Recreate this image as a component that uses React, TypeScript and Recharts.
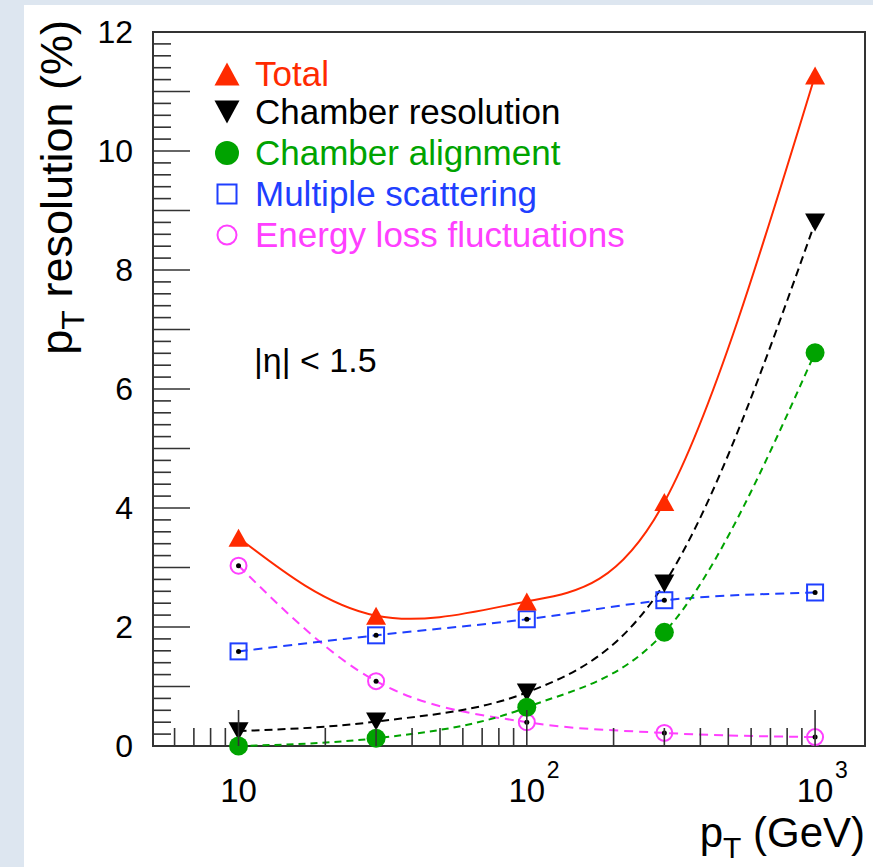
import React from 'react';
import { ComposedChart, Line, XAxis, YAxis, ReferenceArea, Legend } from 'recharts';

const FONT = '"Liberation Sans", Arial, Helvetica, sans-serif';
const RED = '#ff2a00';
const BLACK = '#000000';
const GREEN = '#00a300';
const BLUE = '#1f3fff';
const PINK = '#ff40ff';
const FRAME = '#333333';

const PLOT_LEFT = 153;
const PLOT_BOTTOM = 746;

// pT points (GeV) and the resolution contributions (%)
const ptValues = [10, 30, 100, 300, 1000];
const totalRes = [3.5, 2.19, 2.43, 4.1, 11.27];
const chamberResolution = [0.25, 0.41, 0.9, 2.73, 8.8];
const chamberAlignment = [0.0, 0.13, 0.65, 1.91, 6.61];
const multipleScattering = [1.59, 1.86, 2.13, 2.45, 2.58];
const energyLoss = [3.03, 1.09, 0.4, 0.22, 0.15];

const xDomain = [5.05, 1490];
const xTicks = [6, 7, 8, 9, 10, 20, 30, 40, 50, 60, 70, 80, 90, 100, 200, 300, 400, 500, 600, 700, 800, 900, 1000];
const xLabelValues = [10, 100, 1000];
const xLabelExps = ['', '2', '3'];
const yLabels = [0, 2, 4, 6, 8, 10, 12];

const yTicks: number[] = [];
for (let i = 0; i <= 60; i++) yTicks.push(Math.round(i * 2) / 10);

const legendItems = [
  { name: 'Total', color: RED, marker: 'triUp' },
  { name: 'Chamber resolution', color: BLACK, marker: 'triDown' },
  { name: 'Chamber alignment', color: GREEN, marker: 'disc' },
  { name: 'Multiple scattering', color: BLUE, marker: 'square' },
  { name: 'Energy loss fluctuations', color: PINK, marker: 'ring' },
];

const data = ptValues.map((pt, i) => ({
  pt,
  total: totalRes[i],
  chamberRes: chamberResolution[i],
  chamberAlign: chamberAlignment[i],
  multScat: multipleScattering[i],
  eloss: energyLoss[i],
}));

function Marker({ kind, cx, cy, color, size }: { kind: string; cx: number; cy: number; color: string; size: number }) {
  const h = size / 2;
  if (kind === 'triUp')
    return <path d={`M${cx},${cy - h} L${cx + h + 1},${cy + h} L${cx - h - 1},${cy + h} Z`} fill={color} />;
  if (kind === 'triDown')
    return <path d={`M${cx},${cy + h} L${cx + h + 1},${cy - h} L${cx - h - 1},${cy - h} Z`} fill={color} />;
  if (kind === 'disc') return <circle cx={cx} cy={cy} r={h + 0.5} fill={color} />;
  if (kind === 'square')
    return <rect x={cx - h + 1} y={cy - h + 1} width={size - 2} height={size - 2} fill="none" stroke={color} strokeWidth={2} />;
  return <circle cx={cx} cy={cy} r={h - 1} fill="none" stroke={color} strokeWidth={2} />;
}

const makeDot = (kind: string, color: string, centre: boolean) => (props: any) => {
  const { cx, cy, index } = props;
  if (cx == null || cy == null) return <g key={`${kind}-${index}`} />;
  return (
    <g key={`${kind}-${index}`}>
      <Marker kind={kind} cx={cx} cy={cy} color={color} size={18} />
      {centre && <circle cx={cx} cy={cy} r={2.5} fill="#000" />}
    </g>
  );
};

function XTick(props: any) {
  const { x, payload } = props;
  const li = xLabelValues.indexOf(payload.value);
  const major = li >= 0;
  return (
    <g>
      <line x1={x} x2={x} y1={PLOT_BOTTOM} y2={PLOT_BOTTOM - (major ? 36 : 18)} stroke={FRAME} strokeWidth={1.6} />
      {major && (
        <text x={x} y={802} textAnchor="middle" fontSize={33} fontFamily={FONT} fill="#000">
          10
        </text>
      )}
      {major && xLabelExps[li] && (
        <text x={x + 20} y={778} fontSize={23} fontFamily={FONT} fill="#000">
          {xLabelExps[li]}
        </text>
      )}
    </g>
  );
}

function YTick(props: any) {
  const { y, payload } = props;
  const v = payload.value;
  const isInt = Math.abs(v - Math.round(v)) < 1e-6;
  const labelled = isInt && yLabels.includes(Math.round(v));
  return (
    <g>
      {v > 0 && v < 12 && (
        <line x1={PLOT_LEFT} x2={PLOT_LEFT + (isInt ? 37 : 18)} y1={y} y2={y} stroke={FRAME} strokeWidth={1.6} />
      )}
      {labelled && (
        <text x={133} y={y + 11} textAnchor="end" fontSize={32} fontFamily={FONT} fill="#000">
          {Math.round(v)}
        </text>
      )}
    </g>
  );
}

const legendRows = [86, 124, 165, 206, 247];

function LegendBox() {
  return (
    <svg width={440} height={220} style={{ overflow: 'visible' }}>
      {legendItems.map((it, i) => (
        <g key={it.name}>
          <Marker kind={it.marker} cx={27} cy={legendRows[i] - 50 - 12} color={it.color} size={it.marker === 'square' || it.marker === 'ring' ? 21 : 23} />
          <text x={55} y={legendRows[i] - 50} fontSize={35} fontFamily={FONT} fill={it.color}>
            {it.name}
          </text>
        </g>
      ))}
    </svg>
  );
}

export default function App() {
  return (
    <div style={{ position: 'absolute', left: 0, top: 0, width: 873, height: 867, background: '#dde6f0', overflow: 'hidden' }}>
      <div style={{ position: 'absolute', left: 24, top: 5, width: 849, height: 862, background: '#ffffff' }} />
      <div style={{ position: 'absolute', left: 0, top: 0 }}>
        <ComposedChart width={873} height={867} data={data} margin={{ top: 32, right: 8, left: 0, bottom: 0 }}>
          <XAxis
            dataKey="pt"
            type="number"
            scale="log"
            domain={xDomain}
            allowDataOverflow
            ticks={xTicks}
            interval={0}
            tick={<XTick />}
            tickLine={false}
            axisLine={false}
            height={121}
          />
          <YAxis
            type="number"
            domain={[0, 12]}
            ticks={yTicks}
            interval={0}
            tick={<YTick />}
            tickLine={false}
            axisLine={false}
            width={153}
          />
          <ReferenceArea x1={xDomain[0]} x2={xDomain[1]} y1={0} y2={12} fill="none" stroke={FRAME} strokeWidth={2} ifOverflow="visible" />
          <Line dataKey="eloss" type="monotone" stroke={PINK} strokeWidth={2} strokeDasharray="9 6" dot={makeDot('ring', PINK, true)} isAnimationActive={false} />
          <Line dataKey="multScat" type="monotone" stroke={BLUE} strokeWidth={2} strokeDasharray="9 6" dot={makeDot('square', BLUE, true)} isAnimationActive={false} />
          <Line dataKey="chamberRes" type="monotone" stroke={BLACK} strokeWidth={2} strokeDasharray="8 5" dot={makeDot('triDown', BLACK, false)} isAnimationActive={false} />
          <Line dataKey="chamberAlign" type="monotone" stroke={GREEN} strokeWidth={2} strokeDasharray="7 5" dot={makeDot('disc', GREEN, false)} isAnimationActive={false} />
          <Line dataKey="total" type="natural" stroke={RED} strokeWidth={2} dot={makeDot('triUp', RED, false)} isAnimationActive={false} />
          <Legend
            layout="vertical"
            align="center"
            verticalAlign="middle"
            wrapperStyle={{ left: 200, top: 50, width: 440, height: 220 }}
            content={<LegendBox />}
          />
        </ComposedChart>
      </div>
      <svg width={873} height={867} style={{ position: 'absolute', left: 0, top: 0, pointerEvents: 'none' }}>
        <text x={865} y={847} textAnchor="end" fontSize={42} fontFamily={FONT} fill="#000">
          p<tspan fontSize={30} dy={11}>T</tspan>
          <tspan dy={-11}> (GeV)</tspan>
        </text>
        <text transform="translate(72,20) rotate(-90)" textAnchor="end" fontSize={45} fontFamily={FONT} fill="#000">
          p<tspan fontSize={32} dy={12}>T</tspan>
          <tspan dy={-12}> resolution (%)</tspan>
        </text>
        <text x={254} y={372} fontSize={34} fontFamily={FONT} fill="#000">
          |η| &lt; 1.5
        </text>
      </svg>
    </div>
  );
}
